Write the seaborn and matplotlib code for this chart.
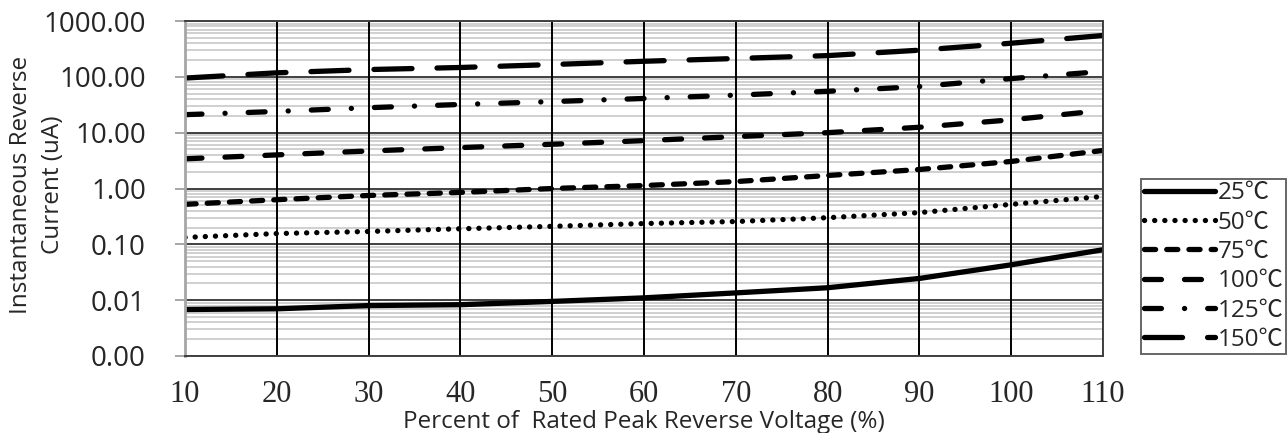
import numpy as np
import pandas as pd
import matplotlib
matplotlib.use('Agg')
import matplotlib.pyplot as plt
import matplotlib.ticker as mticker
import seaborn as sns

# values (uA)
pct = [10, 20, 30, 40, 50, 60, 70, 80, 90, 100, 110]
temps = ['25℃', '50℃', '75℃', '100℃', '125℃', '150℃']
i_25 = [0.0068, 0.0070, 0.0080, 0.0083, 0.0095, 0.011, 0.0135, 0.0167, 0.0245, 0.043, 0.080]
i_50 = [0.133, 0.156, 0.170, 0.190, 0.210, 0.236, 0.256, 0.300, 0.370, 0.520, 0.720]
i_75 = [0.52, 0.63, 0.75, 0.85, 1.00, 1.13, 1.33, 1.71, 2.19, 3.05, 4.80]
i_100 = [3.4, 4.0, 4.7, 5.4, 6.2, 7.2, 8.5, 10.0, 12.5, 17.0, 25.0]
i_125 = [21, 24, 28, 32, 36, 41, 47, 55, 67, 93, 125]
i_150 = [95, 118, 135, 147, 166, 190, 213, 240, 300, 400, 550]
y_ticks = [0.001, 0.01, 0.1, 1, 10, 100, 1000]

df = pd.DataFrame({'pct': pct, '25℃': i_25, '50℃': i_50, '75℃': i_75,
                   '100℃': i_100, '125℃': i_125, '150℃': i_150})
df = df.melt(id_vars='pct', var_name='temp', value_name='current')

sns.set_theme(style='white')
plt.rcParams['font.family'] = ['Open Sans', 'Noto Sans CJK SC', 'DejaVu Sans']
plt.rcParams['lines.scale_dashes'] = False

# dash patterns in points (round caps add a bit on each end)
styles = {
    '25℃': '-',
    '50℃': (0, (0.1, 7.2)),
    '75℃': (0, (8, 8)),
    '100℃': (0, (12.2, 16.6)),
    '125℃': (0, (12.2, 16.6, 0.1, 16.6)),
    '150℃': (0, (27.4, 18)),
}

fig = plt.figure(figsize=(12.88, 4.33), dpi=100)
ax = fig.add_axes([185 / 1288, 77 / 433, 918 / 1288, 335 / 433])

for t in temps:
    sub = df[df.temp == t]
    sns.lineplot(data=sub, x='pct', y='current', ax=ax, color='black',
                 linewidth=3.8, linestyle=styles[t], dash_capstyle='round',
                 solid_capstyle='round', label=t, legend=False)

ax.set_yscale('log')
ax.set_ylim(0.001, 1000)
ax.set_xlim(10, 110)
ax.set_xticks(pct)
ax.set_yticks(y_ticks)
ax.yaxis.set_major_formatter(mticker.FuncFormatter(lambda v, p: f'{v:.2f}'))
ax.yaxis.set_minor_locator(mticker.LogLocator(base=10, subs=np.arange(2, 10)))
ax.yaxis.set_minor_formatter(mticker.NullFormatter())

ax.set_axisbelow(True)
ax.grid(True, axis='x', which='major', color='black', linewidth=1.4)
ax.grid(True, axis='y', which='major', color='#404040', linewidth=1.4)
ax.grid(True, axis='y', which='minor', color='#c4c4c4', linewidth=1.1)
# vertical grid lines sit on top of the light horizontal ones
ax.yaxis.set_zorder(0.5)
ax.xaxis.set_zorder(0.6)

for s in ['top', 'right', 'bottom']:
    ax.spines[s].set_color('#404040')
    ax.spines[s].set_linewidth(1.4)
ax.spines['left'].set_color('#a6a6a6')
ax.spines['left'].set_linewidth(2)

ax.tick_params(axis='y', which='major', length=7.2, width=1.4, color='#a6a6a6',
               pad=21, labelsize=20, left=True)
ax.tick_params(axis='y', which='minor', length=0)
ax.tick_params(axis='x', length=0, pad=17)
for lab in ax.get_xticklabels():
    lab.set_family('Liberation Serif')
    lab.set_fontsize(22)

ax.set_xlabel('Percent of  Rated Peak Reverse Voltage (%)', fontsize=17.5, labelpad=1)
ax.set_ylabel('Instantaneous Reverse\nCurrent (uA)', fontsize=17.5, linespacing=1.45)
ax.yaxis.set_label_coords(-0.131, 0.51)

leg = ax.legend(ax.lines, temps, loc='center right',
                bbox_to_anchor=(1286 / 1288, 166.5 / 433), bbox_transform=fig.transFigure,
                frameon=True, fancybox=False, fontsize=17.5, handlelength=2.95,
                handletextpad=0.1, labelspacing=0.22, borderpad=0.1,
                borderaxespad=0)
leg.get_frame().set_edgecolor('#404040')
leg.get_frame().set_linewidth(1.4)

fig.savefig('out.png', dpi=100)
